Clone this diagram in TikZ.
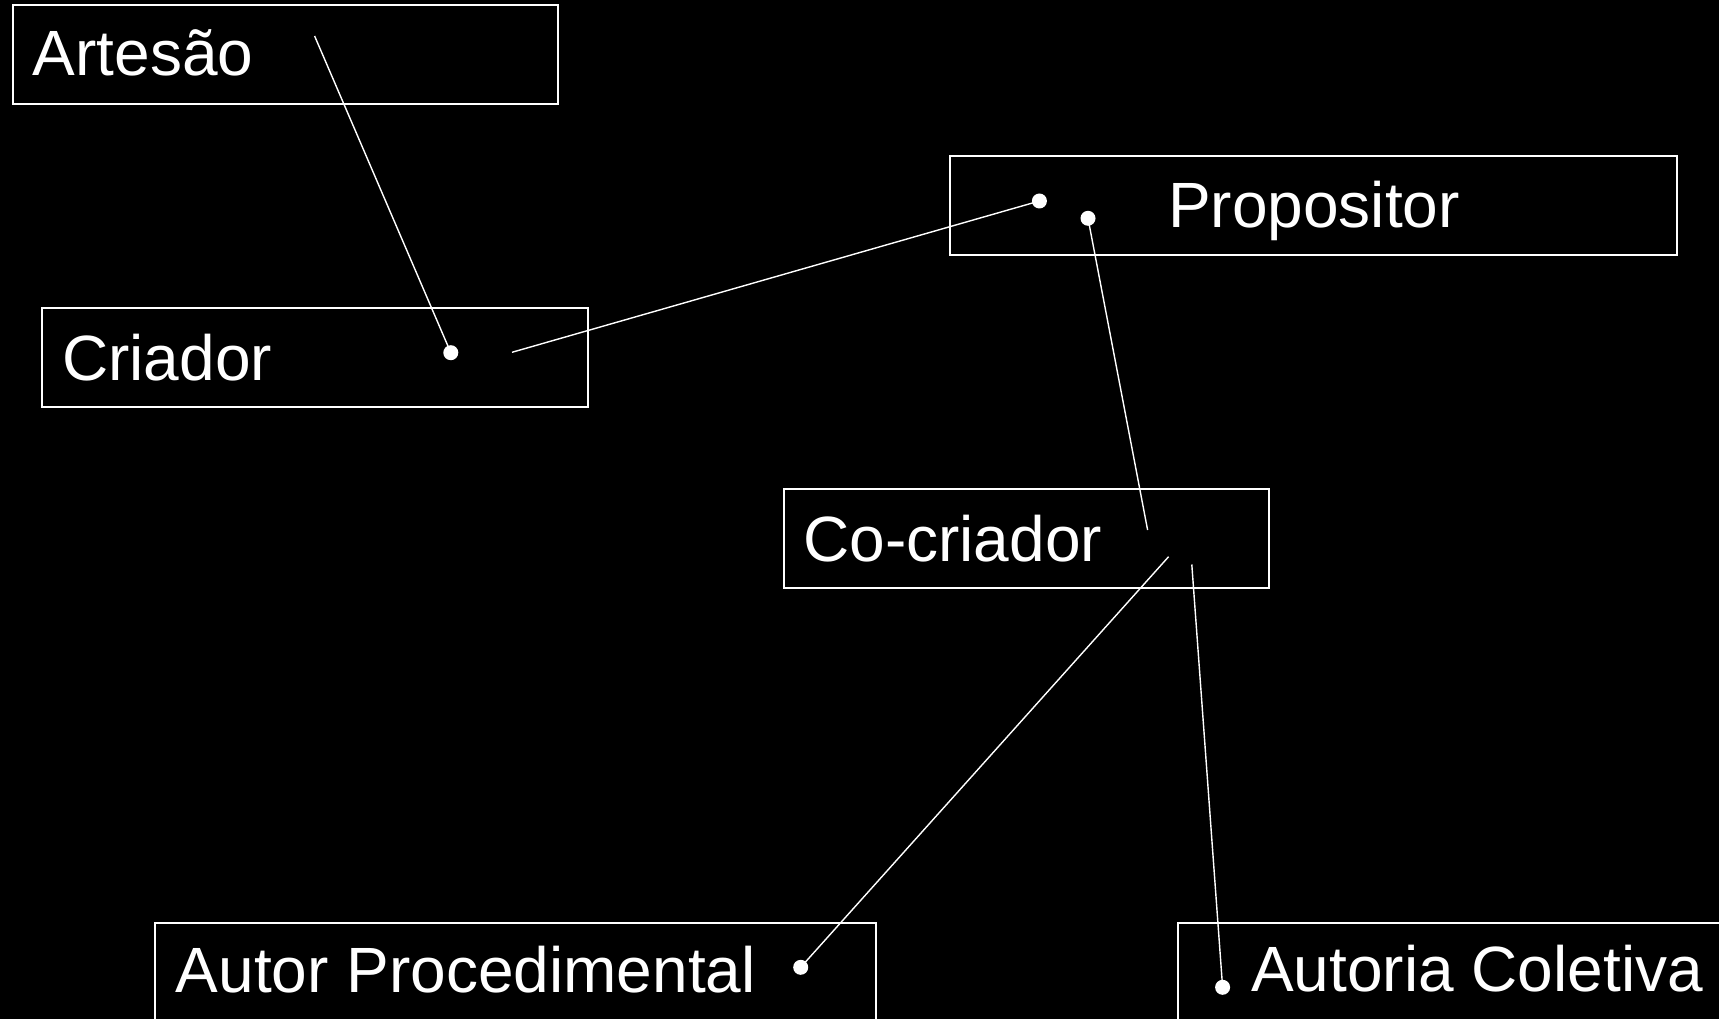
\documentclass[tikz,border=0pt]{standalone}
\usepackage{fontspec}
\setmainfont{Liberation Sans}

\tikzset{
    termbox/.style={draw=white, line width=2pt, inner sep=0pt, anchor=north west},
    term/.style={text=white, inner sep=0pt, anchor=base west,
        font=\fontsize{64}{70}\selectfont},
    knot/.style={circle, fill=white, inner sep=0pt, minimum size=15pt},
    link/.style={draw=white, line width=1.4pt}
}

\begin{document}
\begin{tikzpicture}[x=1pt, y=-1pt]
    \fill[black] (0,0) rectangle (1719,1019);
    \useasboundingbox (0,0) rectangle (1719,1019);

    % boxes
    \node[termbox, minimum width=545.5pt, minimum height=99pt] (artesao) at (11.5,4) {};
    \node[termbox, minimum width=545.7pt, minimum height=99pt] (criador) at (41.3,307) {};
    \node[termbox, minimum width=726.5pt, minimum height=98.5pt] (propositor) at (949,155.5) {};
    \node[termbox, minimum width=485pt, minimum height=99pt] (cocriador) at (783,488) {};
    \node[termbox, minimum width=720.4pt, minimum height=110pt] (procedimental) at (154.3,921.7) {};
    \node[termbox, minimum width=560pt, minimum height=110pt] (coletiva) at (1176.5,921.7) {};

    % labels
    \node[term] (artesaoText) at (32.5,76) {Artesão};
    \node[term] (criadorText) at (62,380) {Criador};
    \node[term] (propositorText) at (1168,228) {Propositor};
    \node[term] (cocriadorText) at (803,561) {Co-criador};
    \node[term] (procedimentalText) at (175.7,992.7) {Autor Procedimental};
    \node[term] (coletivaText) at (1251,991.7) {Autoria Coletiva};

    % dots and line ends
    \node[knot] (criadorDot) at (450.8,352.7) {};
    \node[knot] (propDotA) at (1039.4,201) {};
    \node[knot] (propDotB) at (1088,218.3) {};
    \node[knot] (procDot) at (800.7,967.3) {};
    \node[knot] (coletivaDot) at (1222.6,987.3) {};
    \coordinate (artesaoEnd) at (314.6,36);
    \coordinate (criadorEnd) at (512,352.3);
    \coordinate (cocriadorA) at (1147.6,530);
    \coordinate (cocriadorB) at (1168.6,556.7);
    \coordinate (cocriadorC) at (1191.8,564.5);

    \draw[link] (artesaoEnd) -- (criadorDot.center);
    \draw[link] (criadorEnd) -- (propDotA.center);
    \draw[link] (propDotB.center) -- (cocriadorA);
    \draw[link] (cocriadorB) -- (procDot.center);
    \draw[link] (cocriadorC) -- (coletivaDot.center);
\end{tikzpicture}
\end{document}
